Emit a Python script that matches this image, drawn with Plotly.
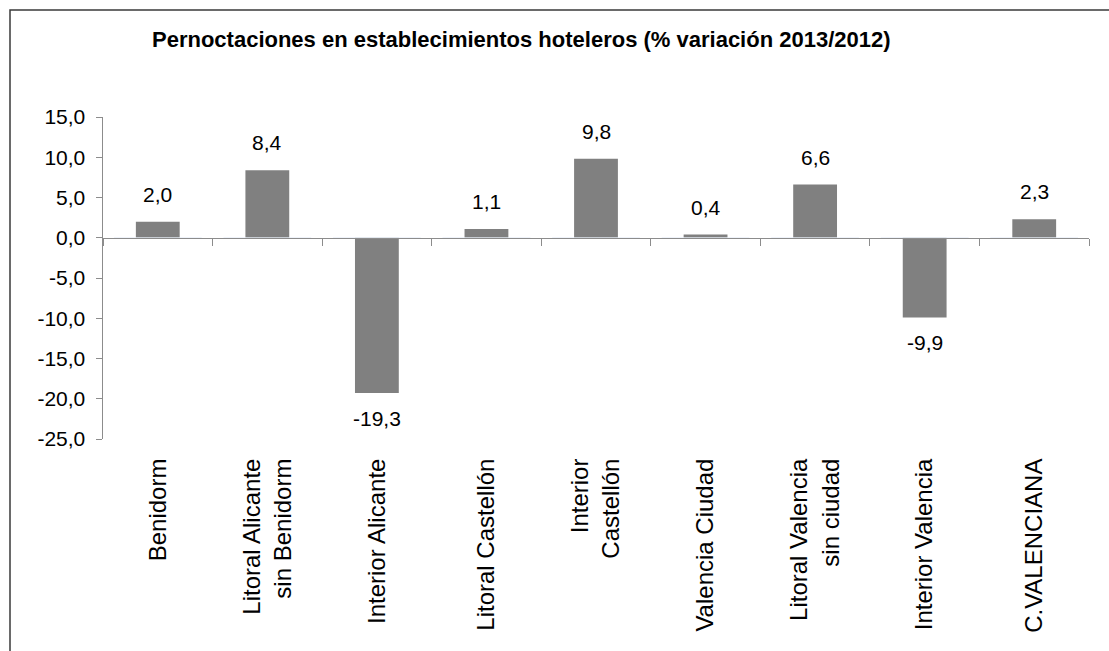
import plotly.graph_objects as go

categories = ["Benidorm", "Litoral Alicante<br>sin Benidorm", "Interior Alicante",
              "Litoral Castellón", "Interior<br>Castellón", "Valencia Ciudad",
              "Litoral Valencia<br>sin ciudad", "Interior Valencia", "C.VALENCIANA"]
values = [2.0, 8.4, -19.3, 1.1, 9.8, 0.4, 6.6, -9.9, 2.3]
y_ticks = [-25, -20, -15, -10, -5, 0, 5, 10, 15]
y_tick_labels = ["-25,0", "-20,0", "-15,0", "-10,0", "-5,0", "0,0", "5,0", "10,0", "15,0"]
title_text = "Pernoctaciones en establecimientos hoteleros (% variación 2013/2012)"

FONT = "Liberation Sans, Arial, sans-serif"
AXIS_COLOR = "#8c8c8c"

W, H = 1109, 651
L, T = 103, 117
PW, PH = 986, 322
R = W - L - PW
B = H - T - PH

fig = go.Figure()
fig.add_trace(go.Bar(x=categories, y=values, width=0.4,
                     marker=dict(color="#808080", line=dict(width=0)),
                     hoverinfo="skip", showlegend=False))

# invisible trace for the zero-crossing category axis
fig.add_trace(go.Bar(x=categories, y=[0]*len(categories), xaxis="x2",
                     marker=dict(color="rgba(0,0,0,0)"), showlegend=False,
                     hoverinfo="skip"))

for c, v in zip(categories, values):
    txt = f"{v:.1f}".replace(".", ",")
    fig.add_annotation(x=c, y=v, text=txt, showarrow=False,
                       yanchor="bottom" if v >= 0 else "top",
                       yshift=14 if v >= 0 else -12,
                       font=dict(family=FONT, size=21, color="black"))

fig.update_layout(
    width=W, height=H,
    margin=dict(l=L, r=R, t=T, b=B),
    paper_bgcolor="white", plot_bgcolor="white",
    barmode="overlay",
    title=dict(text="<b>" + title_text + "</b>", x=(152 - L) / PW, xref="paper",
               xanchor="left", y=1 - 39/H, yref="container", yanchor="middle",
               font=dict(family=FONT, size=22, color="black")),
    xaxis=dict(type="category", showline=False, showgrid=False, zeroline=False,
               ticks="outside", ticklen=9, tickcolor="rgba(0,0,0,0)",
               tickangle=-90, tickfont=dict(family=FONT, size=24, color="black")),
    xaxis2=dict(type="category", overlaying="x", matches="x", anchor="free",
                position=(0 - y_ticks[0]) / (y_ticks[-1] - y_ticks[0]),
                showline=True, linecolor=AXIS_COLOR, linewidth=1.5,
                ticks="outside", tickson="boundaries", ticklen=7,
                tickcolor=AXIS_COLOR, showticklabels=False, showgrid=False,
                side="bottom"),
    yaxis=dict(range=[y_ticks[0], y_ticks[-1]], tickvals=y_ticks, ticktext=y_tick_labels,
               showline=True, linecolor=AXIS_COLOR, linewidth=1.5,
               ticks="outside", ticklen=6, tickcolor=AXIS_COLOR,
               showgrid=False, zeroline=False, ticklabelstandoff=6,
               tickfont=dict(family=FONT, size=21, color="black")),
)

# outer chart frame: only left and top edges are visible in the original
fx0 = (10 - L) / PW
fx1 = (W + 20 - L) / PW
fy0 = -(H + 20 - (T + PH)) / PH
fy1 = 1 + (T - 10) / PH
fig.add_shape(type="path", xref="paper", yref="paper",
              path=f"M {fx0} {fy0} L {fx0} {fy1} L {fx1} {fy1}",
              line=dict(color="#3a3a3a", width=1.5), layer="below")

fig.write_html("out.html",
               config={"displayModeBar": False, "staticPlot": True},
               post_script="document.body.style.margin='0';"
                           "document.body.style.overflow='hidden';")
